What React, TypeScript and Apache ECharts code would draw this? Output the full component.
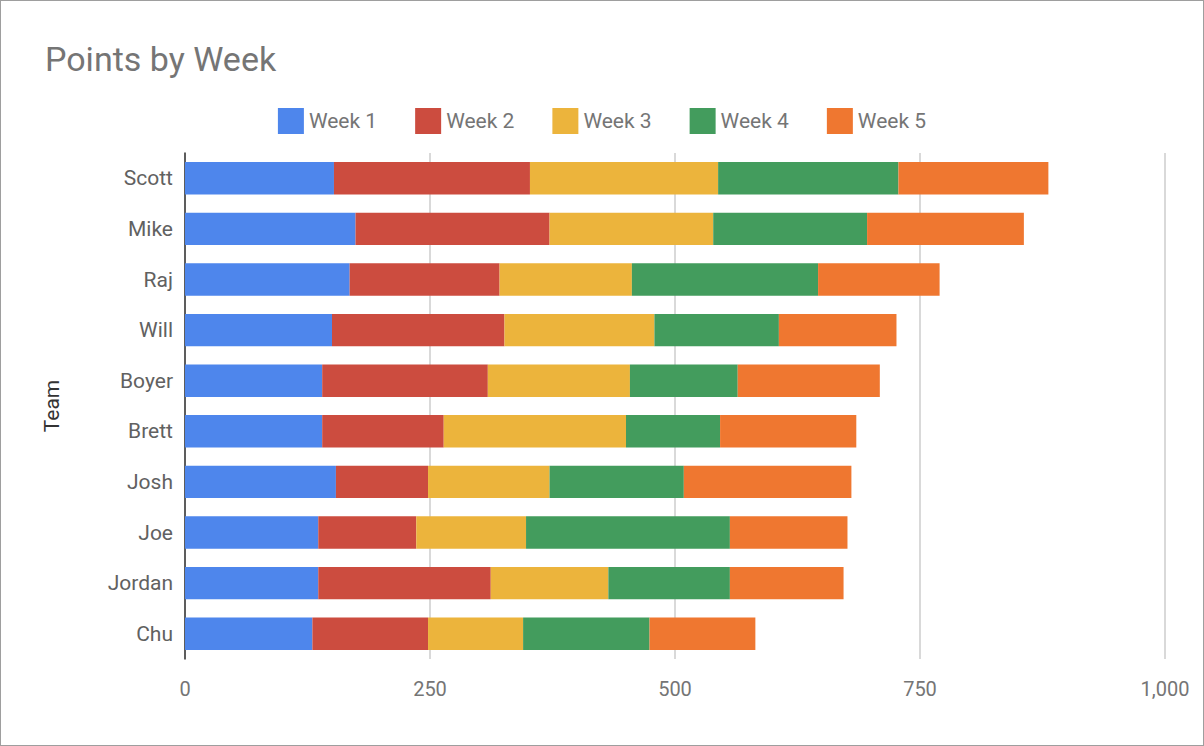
import { useEffect, useRef } from 'react';
import * as echarts from 'echarts';

const teams = ['Scott', 'Mike', 'Raj', 'Will', 'Boyer', 'Brett', 'Josh', 'Joe', 'Jordan', 'Chu'];
const weekNames = ['Week 1', 'Week 2', 'Week 3', 'Week 4', 'Week 5'];
const week1 = [152, 174, 168, 150, 140, 140, 154, 136, 136, 130];
const week2 = [200, 198, 153, 176, 169, 124, 94, 100, 176, 118];
const week3 = [192, 167, 135, 153, 145, 186, 124, 112, 120, 97];
const week4 = [184, 157, 190, 127, 110, 96, 137, 208, 124, 129];
const week5 = [153, 160, 124, 120, 145, 139, 171, 120, 116, 108];
const colors = ['#4e86ec', '#cc4c3f', '#ecb43c', '#439c5d', '#ef7730'];

export default function App() {
  const chartRef = useRef<HTMLDivElement>(null);

  useEffect(() => {
    if (!chartRef.current) return;
    const chart = echarts.init(chartRef.current, undefined, { renderer: 'svg' });
    const weeks = [week1, week2, week3, week4, week5];
    chart.setOption({
      animation: false,
      color: colors,
      textStyle: { fontFamily: 'Roboto' },
      title: {
        text: 'Points by Week',
        left: 39,
        top: 36,
        textStyle: { color: '#757575', fontSize: 34, fontWeight: 'normal', fontFamily: 'Roboto' },
      },
      legend: {
        top: 102,
        left: 'center',
        itemWidth: 26,
        itemHeight: 26,
        itemGap: 38,
        icon: 'rect',
        textStyle: { color: '#757575', fontSize: 21 },
      },
      grid: { left: 184, right: 38, top: 152, bottom: 86 },
      xAxis: {
        type: 'value',
        min: 0,
        max: 1000,
        interval: 250,
        axisLine: { show: false },
        axisTick: { show: false },
        splitLine: { lineStyle: { color: '#cccccc', width: 1.5 } },
        axisLabel: { color: '#757575', fontSize: 20, margin: 20 },
      },
      yAxis: {
        type: 'category',
        data: teams,
        inverse: true,
        name: 'Team',
        nameLocation: 'center',
        nameGap: 123,
        nameTextStyle: { color: '#333', fontSize: 21 },
        axisLine: { lineStyle: { color: '#333', width: 1.5 } },
        axisTick: { show: false },
        axisLabel: { color: '#616161', fontSize: 21, margin: 12 },
      },
      series: weeks.map((w, i) => ({
        name: weekNames[i],
        type: 'bar',
        stack: 'total',
        barWidth: '64%',
        data: w,
      })),
    });
    return () => chart.dispose();
  }, []);

  return (
    <div
      ref={chartRef}
      style={{
        position: 'fixed',
        left: 0,
        top: 0,
        width: 1204,
        height: 746,
        boxSizing: 'border-box',
        border: '1px solid #9e9e9e',
        background: '#fff',
      }}
    />
  );
}
